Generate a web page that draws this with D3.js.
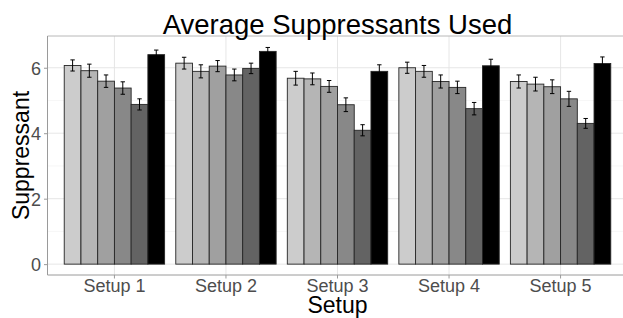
<!DOCTYPE html>
<html><head><meta charset="utf-8">
<script src="https://cdn.jsdelivr.net/npm/d3@7"></script>
<style>body{margin:0;background:#fff}svg{display:block;font-family:"Liberation Sans",Arial,sans-serif}</style>
</head><body><svg id="c" width="623" height="318"></svg>
<script>
const setups = ["Setup 1","Setup 2","Setup 3","Setup 4","Setup 5"];
const groups = ["g1","g2","g3","g4","g5","g6"];
const fills = ["#cccccc","#b5b5b5","#a0a0a0","#888888","#636363","#000000"];
const means = [
  [6.07,5.91,5.59,5.38,4.88,6.40],
  [6.14,5.89,6.05,5.78,5.98,6.50],
  [5.68,5.66,5.43,4.87,4.09,5.89],
  [6.00,5.89,5.58,5.40,4.75,6.06],
  [5.58,5.50,5.42,5.05,4.30,6.13]
];
const errs = [
  [0.17,0.20,0.19,0.19,0.17,0.14],
  [0.18,0.20,0.17,0.18,0.16,0.12],
  [0.21,0.18,0.18,0.21,0.17,0.20],
  [0.17,0.18,0.20,0.19,0.19,0.20],
  [0.20,0.21,0.21,0.23,0.15,0.20]
];
const yTicks = [0,2,4,6];
const yMinor = [1,3,5];

const svg = d3.select("#c");
const L = 47.5, R = 627.5, T = 36, B = 275;
const y = d3.scaleLinear().domain([-0.332, 6.97]).range([B, T]);
const unit = (R - L) / (setups.length + 0.2);
const x = d3.scaleBand().domain(setups).range([L + 0.6*unit - unit/2, R - 0.6*unit + unit/2]).paddingInner(0).paddingOuter(0);
const bandInner = x.bandwidth() * 0.9;
const xs = d3.scaleBand().domain(groups).range([0, bandInner]);

// grid
const g = svg.append("g");
g.selectAll(".ymin").data(yMinor).join("line").attr("x1",L).attr("x2",R).attr("y1",d=>y(d)).attr("y2",d=>y(d)).attr("stroke","#f0f0f0").attr("stroke-width",0.6);
g.selectAll(".ymaj").data(yTicks).join("line").attr("x1",L).attr("x2",R).attr("y1",d=>y(d)).attr("y2",d=>y(d)).attr("stroke","#e3e3e3").attr("stroke-width",0.9);
g.selectAll(".xmaj").data(setups).join("line").attr("x1",d=>x(d)+x.bandwidth()/2).attr("x2",d=>x(d)+x.bandwidth()/2).attr("y1",T).attr("y2",B).attr("stroke","#e3e3e3").attr("stroke-width",0.9);

// bars
const rows = [];
setups.forEach((s,i)=>groups.forEach((gr,j)=>rows.push({s, gr, j, v: means[i][j], e: errs[i][j]})));
const bx = d => x(d.s) + (x.bandwidth()-bandInner)/2 + xs(d.gr);
svg.append("g").selectAll("rect").data(rows).join("rect")
  .attr("x", bx).attr("width", xs.bandwidth())
  .attr("y", d=>y(d.v)).attr("height", d=>y(0)-y(d.v))
  .attr("fill", d=>fills[d.j]).attr("stroke","#262626").attr("stroke-width",0.9);

// error bars
const eg = svg.append("g").attr("stroke","#000").attr("stroke-width",1);
rows.forEach(d=>{
  const cx = bx(d) + xs.bandwidth()/2, hw = 2.2;
  eg.append("line").attr("x1",cx).attr("x2",cx).attr("y1",y(d.v+d.e)).attr("y2",y(d.v-d.e));
  eg.append("line").attr("x1",cx-hw).attr("x2",cx+hw).attr("y1",y(d.v+d.e)).attr("y2",y(d.v+d.e));
  eg.append("line").attr("x1",cx-hw).attr("x2",cx+hw).attr("y1",y(d.v-d.e)).attr("y2",y(d.v-d.e));
});

// panel border
svg.append("line").attr("x1",L).attr("x2",R).attr("y1",T).attr("y2",T).attr("stroke","#b8b8b8").attr("stroke-width",1);
svg.append("line").attr("x1",L).attr("x2",L).attr("y1",T).attr("y2",B).attr("stroke","#9a9a9a").attr("stroke-width",1);
svg.append("line").attr("x1",L).attr("x2",R).attr("y1",B).attr("y2",B).attr("stroke","#9a9a9a").attr("stroke-width",1);

// axes
const yAxis = d3.axisLeft(y).tickValues(yTicks).tickSize(3.5).tickPadding(3);
const ya = svg.append("g").attr("transform",`translate(${L},0)`).call(yAxis);
ya.select(".domain").remove();
ya.selectAll("line").attr("stroke","#9a9a9a");
ya.selectAll("text").attr("fill","#4d4d4d").style("font-size","18px").attr("dy","0.36em");

const xAxis = d3.axisBottom(x).tickSize(3.5).tickPadding(2);
const xa = svg.append("g").attr("transform",`translate(0,${B})`).call(xAxis);
xa.select(".domain").remove();
xa.selectAll("line").attr("stroke","#9a9a9a");
xa.selectAll("text").attr("fill","#4d4d4d").style("font-size","18px").attr("dy","0.66em");

// titles
svg.append("text").attr("x",(L+R)/2).attr("y",34).attr("text-anchor","middle").style("font-size","27.5px").attr("fill","#000").text("Average Suppressants Used");
svg.append("text").attr("x",(L+R)/2).attr("y",312.7).attr("text-anchor","middle").style("font-size","23px").attr("fill","#000").text("Setup");
svg.append("text").attr("transform",`translate(29,${(T+B)/2}) rotate(-90)`).attr("text-anchor","middle").style("font-size","23px").attr("fill","#000").text("Suppressant");
</script></body></html>
